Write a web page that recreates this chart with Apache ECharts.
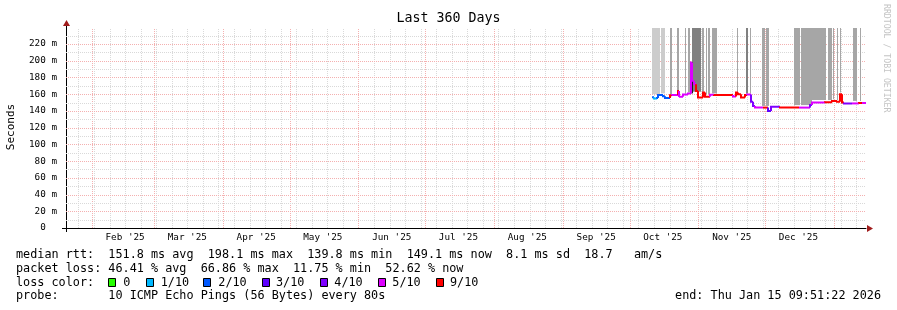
<!DOCTYPE html>
<html><head><meta charset="utf-8">
<script src="https://cdn.jsdelivr.net/npm/echarts@6/dist/echarts.min.js"></script>
<style>html,body{margin:0;padding:0;background:#fff}#c{width:897px;height:310px}</style>
</head><body><div id="c"></div>
<script>
// ---------- window ----------
const END_MS = Date.UTC(2026, 0, 15, 9, 51, 22);
const SPAN_DAYS = 360;
const START_MS = END_MS - SPAN_DAYS * 86400000;
const Y_MAX = 239.2;

// ---------- tick labels ----------
const xTickLabels = ["Feb '25", "Mar '25", "Apr '25", "May '25", "Jun '25", "Jul '25", "Aug '25", "Sep '25", "Oct '25", "Nov '25", "Dec '25"];
const xTickMonths = [[2025,1],[2025,2],[2025,3],[2025,4],[2025,5],[2025,6],[2025,7],[2025,8],[2025,9],[2025,10],[2025,11]];
const yTickValues = [0, 20, 40, 60, 80, 100, 120, 140, 160, 180, 200, 220];

// ---------- median rtt (day offset from window start, ms, lost pings of 10) ----------
const lineDay = [263.7, 264.6, 265.9, 266.4, 268.6, 269.6, 271.8, 272.7, 275.4, 275.9, 276.3, 277.6, 279.9, 281.1, 281.8, 282.7, 283.5, 284.4, 286.6, 287.5, 289.8, 291.6, 300.1, 301.5, 302.4, 303.6, 305.4, 306.4, 308.2, 309.1, 310.0, 313.6, 315.9, 317.2, 321.3, 329.8, 335.0, 335.9, 341.5, 344.7, 346.9, 348.5, 349.2, 350.1, 353.7, 356.8, 358.2];
const lineMs = [156.5, 155, 155.5, 159, 157.5, 155.5, 158.7, 159, 164, 158, 157, 159.6, 161, 198, 176, 172, 164, 156, 162, 157, 159.5, 159, 157.4, 162, 160, 156, 159, 159.6, 151, 146, 144, 144, 140, 145, 144, 144, 147, 150, 150.3, 151.9, 151, 160, 150, 149, 149, 149.5, 149.5];
const lineLoss = [2, 1, 2, 2, 2, 2, 9, 5, 9, 5, 5, 5, 5, 5, 5, 5, 9, 9, 9, 9, 5, 9, 5, 9, 9, 9, 9, 5, 4, 4, 5, 9, 3, 4, 9, 5, 4, 5, 9, 9, 9, 9, 9, 4, 5, 9, 5];

// ---------- smoke (ping spread) ----------
const smokeStart = [263.7, 267.75, 271.8, 274.8, 278.55, 279.8, 281.5, 286.2, 287.8, 289.1, 290.7, 301.95, 306.0, 307.6, 313.2, 315.2, 327.6, 330.75, 335.7, 342.9, 345.15, 346.95, 348.1, 354.15, 357.1, 281.0, 348.75];
const smokeEnd = [267.3, 269.55, 272.5, 275.85, 279.1, 280.8, 285.75, 286.9, 288.45, 289.8, 292.95, 302.4, 307.05, 308.0, 314.55, 316.2, 330.1, 335.7, 341.8, 344.7, 345.6, 347.6, 348.75, 355.95, 357.75, 282.15, 349.4];
const smokeLo = [160, 161, 160, 165, 161, 162, 163, 163, 160, 160, 161, 163, 161, 161, 146, 146, 147, 147, 153, 153, 154, 153, 162, 152, 152, 161, 151];
const smokeHi = [240, 240, 240, 240, 240, 240, 240, 240, 240, 240, 240, 240, 240, 240, 240, 240, 240, 240, 240, 240, 240, 240, 240, 240, 240, 198, 160];
const smokeDensity = [1, 1, 2, 2, 2, 2, 3, 2, 2, 2, 2, 2, 3, 2, 2, 2, 2, 2, 2, 2, 2, 2, 2, 2, 2, 4, 4];

// ---------- legend ----------
const lossLevels = [0, 1, 2, 3, 4, 5, 9];
const lossLabels = ["0", "1/10", "2/10", "3/10", "4/10", "5/10", "9/10"];
const statRtt = "median rtt:  151.8 ms avg  198.1 ms max  139.8 ms min  149.1 ms now  8.1 ms sd  18.7   am/s";
const statLoss = "packet loss: 46.41 % avg  66.86 % max  11.75 % min  52.62 % now";
const probeText = "probe:       10 ICMP Echo Pings (56 Bytes) every 80s";
const endText = "end: Thu Jan 15 09:51:22 2026";

// ---------- styles ----------
const LOSS_COLORS = {0:'#26ff00', 1:'#00b8ff', 2:'#0059ff', 3:'#5e00ff', 4:'#7e00ff', 5:'#dd00ff', 9:'#ff0000'};
function lossColor(n){ if (n >= 6) return '#ff0000'; return LOSS_COLORS[n]; }
const SMOKE_COLORS = {1:'#cccccc', 2:'#a6a6a6', 3:'#808080', 4:'#1e1e1e'};
const MONO = "'DejaVu Sans Mono', 'Liberation Mono', monospace";
const GL = 66, GT = 28, GW = 800, GH = 200;
const MINOR_C = '#d9d9d9', MAJOR_C = '#f4b0b0';

function dayOf(ms){ return (ms - START_MS) / 86400000; }

// gridline positions from the calendar
const monthStarts = [];
for (let y = 2025, m = 0; y < 2027; ) {
  const d = dayOf(Date.UTC(y, m, 1));
  if (d > 0 && d < SPAN_DAYS) monthStarts.push(d);
  m++; if (m > 11) { m = 0; y++; }
}
const weekLines = [];
for (let t = Date.UTC(2025, 0, 26); t < END_MS; t += 7 * 86400000) {
  const d = dayOf(t); if (d > 0) weekLines.push(d);
}
const labelDays = xTickMonths.map(([y, m]) => dayOf(Date.UTC(y, m, 1)) + 15);

const vGrid = weekLines.map(d => [d, 0]).concat(monthStarts.map(d => [d, 1]));
const hGrid = [];
for (let v = 10; v < Y_MAX; v += 10) hGrid.push([v, (v % 20 === 0) ? 1 : 0]);

const lineData = lineDay.map((d, i) => [d, i + 1 < lineDay.length ? lineDay[i + 1] : SPAN_DAYS, lineMs[i], lineLoss[i], i > 0 ? lineMs[i - 1] : lineMs[i]]);
const smokeData = smokeStart.map((s, i) => [s, smokeEnd[i], smokeLo[i], smokeHi[i], smokeDensity[i]]);

const chart = echarts.init(document.getElementById('c'), null, {renderer: 'canvas'});

const graphic = [];
function txt(x, y, s, opts) {
  graphic.push(Object.assign({type: 'text', x: x, y: y, silent: true,
    style: Object.assign({text: s, font: '11.8px ' + MONO, fill: '#000', textAlign: 'left', textVerticalAlign: 'middle'}, opts || {})}));
}
txt(16, 254.5, statRtt);
txt(16, 268.5, statLoss);
txt(16, 282.5, "loss color:");
const boxX = [108.3, 146, 203.3, 261.7, 320, 378.3, 436];
const labX = [123.3, 160.7, 218.3, 276, 334.3, 392.3, 450];
lossLevels.forEach((lv, i) => {
  graphic.push({type: 'rect', silent: true, shape: {x: Math.round(boxX[i]) + 0.5, y: 278.5, width: 7, height: 8},
    style: {fill: lossColor(lv), stroke: '#000', lineWidth: 1}});
  txt(labX[i], 282.5, lossLabels[i]);
});
txt(16, 296.3, probeText);
txt(881, 296.3, endText, {textAlign: 'right'});
// axis title
graphic.push({type: 'text', x: 11, y: 127, rotation: Math.PI / 2, silent: true,
  style: {text: 'Seconds', font: '11px ' + MONO, fill: '#000', textAlign: 'center', textVerticalAlign: 'middle'}});
// watermark
graphic.push({type: 'text', x: 886, y: 4, rotation: -Math.PI / 2, silent: true,
  style: {text: 'RRDTOOL / TOBI OETIKER', font: '8.2px ' + MONO, fill: '#c4c4c4', textAlign: 'left', textVerticalAlign: 'middle'}});
// axis arrows
graphic.push({type: 'polygon', silent: true, shape: {points: [[GL - 3, GT - 2], [GL + 4, GT - 2], [GL + 0.5, GT - 8]]}, style: {fill: '#a01c1c'}});
graphic.push({type: 'polygon', silent: true, shape: {points: [[GL + GW + 1, GT + GH - 3], [GL + GW + 1, GT + GH + 4], [GL + GW + 7, GT + GH + 0.5]]}, style: {fill: '#a01c1c'}});
graphic.push({type: 'line', silent: true, shape: {x1: GL + 0.5, y1: GT - 2, x2: GL + 0.5, y2: GT}, style: {stroke: '#000', lineWidth: 1}});
graphic.push({type: 'line', silent: true, shape: {x1: GL - 4, y1: GT + GH + 0.5, x2: GL, y2: GT + GH + 0.5}, style: {stroke: '#000', lineWidth: 1}});
graphic.push({type: 'line', silent: true, shape: {x1: GL + 0.5, y1: GT + GH, x2: GL + 0.5, y2: GT + GH + 4}, style: {stroke: '#000', lineWidth: 1}});

const option = {
  animation: false,
  backgroundColor: '#ffffff',
  title: {text: 'Last 360 Days', left: 'center', top: 12, padding: 0,
    textStyle: {fontFamily: MONO, fontSize: 13.3, fontWeight: 'normal', color: '#000'}},
  grid: {left: GL, top: GT, width: GW, height: GH, containLabel: false},
  xAxis: {type: 'value', min: 0, max: SPAN_DAYS,
    axisLine: {show: true, lineStyle: {color: '#000', width: 1}},
    axisTick: {show: false}, splitLine: {show: false},
    axisLabel: {customValues: labelDays, margin: 5, color: '#000', fontFamily: MONO, fontSize: 9.3,
      formatter: function (v) { let bi = 0, bd = 1e9; labelDays.forEach((d, i) => { const dd = Math.abs(d - v); if (dd < bd) { bd = dd; bi = i; } }); return xTickLabels[bi]; }}
  },
  yAxis: {type: 'value', min: 0, max: Y_MAX, interval: 20,
    axisLine: {show: true, lineStyle: {color: '#000', width: 1}},
    axisTick: {show: false}, splitLine: {show: false},
    axisLabel: {showMaxLabel: false, margin: 9, color: '#000', fontFamily: MONO, fontSize: 9.3,
      formatter: function (v) { if (yTickValues.indexOf(v) < 0) return ''; return v === 0 ? '0  ' : v + ' m'; }}
  },
  series: [
    {type: 'custom', name: 'vgrid', z: 1, silent: true, clip: true, data: vGrid,
      renderItem: function (p, api) {
        const a = api.coord([api.value(0), 0]), b = api.coord([api.value(0), Y_MAX]);
        const x = Math.round(a[0]) + 0.5;
        return {type: 'line', shape: {x1: x, y1: a[1], x2: x, y2: b[1]},
          style: {stroke: api.value(1) ? MAJOR_C : MINOR_C, lineWidth: 1, lineDash: [1, 1]}};
      }},
    {type: 'custom', name: 'hgrid', z: 1, silent: true, clip: true, data: hGrid, encode: {y: 0},
      renderItem: function (p, api) {
        const a = api.coord([0, api.value(0)]), b = api.coord([SPAN_DAYS, api.value(0)]);
        const y = Math.round(a[1]) + 0.5;
        return {type: 'line', shape: {x1: a[0], y1: y, x2: b[0], y2: y},
          style: {stroke: api.value(1) ? MAJOR_C : MINOR_C, lineWidth: 1, lineDash: [1, 1]}};
      }},
    {type: 'custom', name: 'smoke', z: 2, silent: true, clip: true, data: smokeData, encode: {x: [0, 1], y: [2, 3]},
      renderItem: function (p, api) {
        const a = api.coord([api.value(0), api.value(3)]), b = api.coord([api.value(1), api.value(2)]);
        const x0 = Math.round(a[0]), x1 = Math.max(Math.round(b[0]), x0 + 1);
        return {type: 'rect', shape: {x: x0, y: a[1], width: x1 - x0, height: b[1] - a[1]},
          style: {fill: SMOKE_COLORS[api.value(4)]}};
      }},
    {type: 'custom', name: 'median rtt', z: 3, silent: true, clip: true, data: lineData, encode: {x: [0, 1], y: [2, 4]},
      renderItem: function (p, api) {
        const prev = api.coord([api.value(0), api.value(4)]);
        const a = api.coord([api.value(0), api.value(2)]), b = api.coord([api.value(1), api.value(2)]);
        return {type: 'polyline', shape: {points: [[Math.round(prev[0]), prev[1]], [Math.round(a[0]), a[1]], [Math.round(b[0]), b[1]]]},
          style: {stroke: lossColor(api.value(3)), lineWidth: 2, fill: null, lineJoin: 'miter'}};
      }}
  ],
  graphic: graphic
};
chart.setOption(option);
</script>
</body></html>
